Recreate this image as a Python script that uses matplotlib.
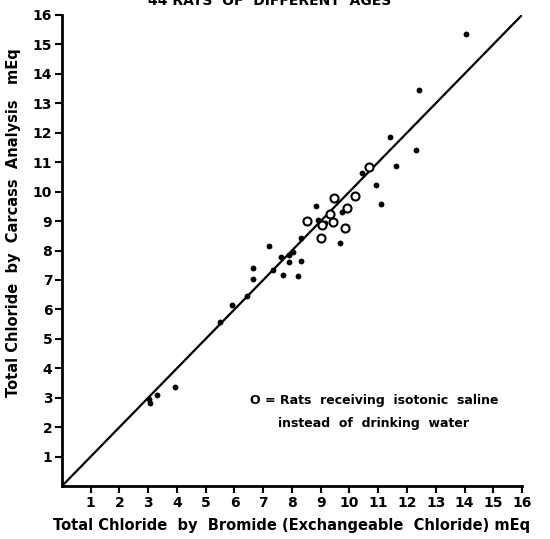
import matplotlib
matplotlib.use("Agg")
from matplotlib import pyplot as plt

# rats on tap water (filled dots): bromide space chloride vs carcass chloride, mEq
bromide_cl = [14.05, 12.4, 11.41, 12.3, 11.61, 10.42, 10.91, 11.08, 8.82, 8.89,
              9.16, 9.73, 8.3, 9.68, 7.21, 7.62, 7.9, 7.91, 8.02, 8.31,
              7.35, 7.7, 8.22, 6.66, 6.66, 6.43, 5.9, 5.5, 3.93, 3.29,
              3.04, 3.06]
carcass_cl = [15.35, 13.45, 11.84, 11.41, 10.88, 10.64, 10.22, 9.58, 9.51, 9.03,
              8.92, 9.32, 8.41, 8.24, 8.16, 7.79, 7.85, 7.61, 7.94, 7.66,
              7.34, 7.17, 7.13, 7.39, 7.02, 6.46, 6.15, 5.58, 3.35, 3.09,
              2.94, 2.81]

# rats on isotonic saline (open circles)
saline_bromide = [10.67, 9.47, 10.2, 9.9, 9.33, 8.51, 9.03, 9.41, 9.86, 9.01]
saline_carcass = [10.83, 9.8, 9.84, 9.43, 9.25, 9.0, 8.85, 8.96, 8.77, 8.41]

ticks = list(range(1, 17))

fig = plt.figure(figsize=(5.5, 5.39), dpi=100)
ax = fig.add_axes([0.1127, 0.0983, 0.8364, 0.8739])

ax.plot([0, 16], [0, 16], color='black', lw=1.6)   # line of identity
ax.plot(bromide_cl, carcass_cl, 'o', color='black', ms=4.2, mew=0)
ax.plot(saline_bromide, saline_carcass, 'o', mfc='white', mec='black', ms=5.8, mew=1.5)

ax.set_xlim(0, 16)
ax.set_ylim(0, 16)
ax.set_xticks(ticks)
ax.set_yticks(ticks)
ax.set_xticklabels([str(t) for t in ticks], fontweight='bold', fontsize=10)
ax.set_yticklabels([str(t) for t in ticks], fontweight='bold', fontsize=10)
ax.tick_params(direction='out', length=5, width=1.5, pad=2)

for side in ['top', 'right']:
    ax.spines[side].set_visible(False)
for side in ['left', 'bottom']:
    ax.spines[side].set_linewidth(2)

ax.set_xlabel('Total Chloride  by  Bromide (Exchangeable  Chloride) mEq',
              fontweight='bold', fontsize=10.5, labelpad=6)
ax.set_ylabel('Total Chloride  by  Carcass  Analysis   mEq',
              fontweight='bold', fontsize=10.5, labelpad=8)
ax.yaxis.set_label_coords(-0.09, 0.56)

ax.text(10.85, 2.92, 'O = Rats  receiving  isotonic  saline', fontweight='bold',
        fontsize=9, ha='center', va='center')
ax.text(10.85, 2.14, 'instead  of  drinking  water', fontweight='bold',
        fontsize=9, ha='center', va='center')

fig.text(0.49, 0.999, '44 RATS  OF  DIFFERENT  AGES', fontweight='bold',
         fontsize=10, ha='center', va='center')

fig.savefig('out.png', dpi=100)
